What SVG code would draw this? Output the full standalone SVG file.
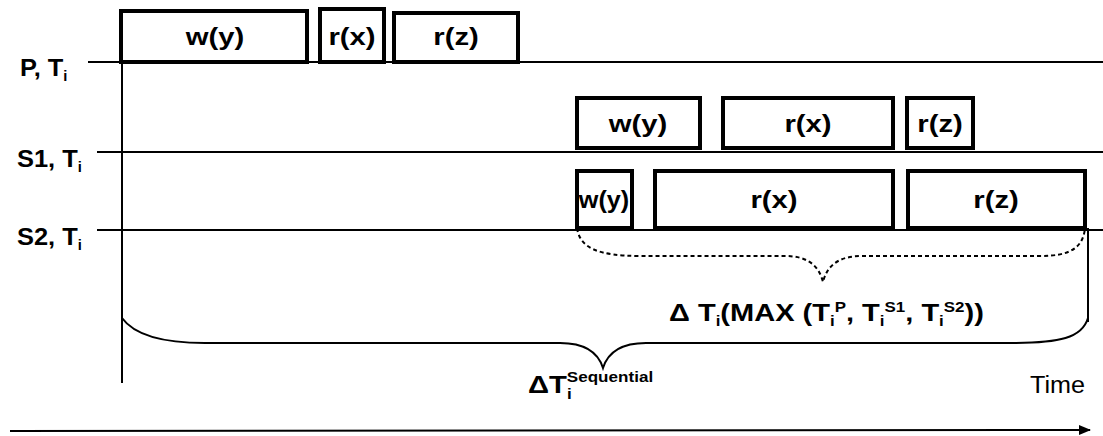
<svg xmlns="http://www.w3.org/2000/svg" width="1103" height="436" viewBox="0 0 1103 436">
<style>
.box{fill:#fff;stroke:#000;stroke-width:4}
.ln{fill:none;stroke:#000;stroke-width:2}
.t{font-family:"Liberation Sans",Arial,sans-serif;font-size:24px;fill:#000}
.lbl{font-family:"Liberation Sans",Arial,sans-serif;font-size:24px;font-weight:bold;fill:#000}
.bl{font-family:"Liberation Sans",Arial,sans-serif;font-size:24px;font-weight:bold;fill:#000;text-anchor:middle}
.sub{font-size:14px}
</style>
<defs>
<marker id="ah" markerWidth="12" markerHeight="10" refX="11" refY="5" orient="auto" markerUnits="userSpaceOnUse">
<path d="M0,0 L12,5 L0,10 Z" fill="#000"/>
</marker>
</defs>
<g id="connectors">
<line class="ln" x1="88" y1="62" x2="1103" y2="62"/>
<line class="ln" x1="97" y1="152" x2="1103" y2="152"/>
<line class="ln" x1="97" y1="230" x2="1103" y2="230"/>
<line class="ln" x1="122" y1="62" x2="122" y2="383"/>
<line class="ln" x1="1088" y1="228" x2="1088" y2="322"/>
<path class="ln" d="M122,318 C135,336 165,343 205,343 L560,343 C585,343 598,352 603,368 C608,352 621,343 646,343 L1010,343 C1060,343 1082,338 1088,318"/>
<path class="ln" stroke-dasharray="4,3" d="M577,228 C580,248 598,256 640,256 L785,256 C808,256 819,266 823,282 C827,266 838,256 862,256 L1040,256 C1070,256 1083,248 1085,228"/>
<line class="ln" x1="10" y1="431" x2="1090" y2="430" marker-end="url(#ah)"/>
</g>
<g id="lane-labels">
<text class="lbl" transform="translate(20,76) scale(1.06,1)">P, T<tspan class="sub" dy="5">i</tspan></text>
<text class="lbl" transform="translate(17,167) scale(1.06,1)">S1, T<tspan class="sub" dy="5">i</tspan></text>
<text class="lbl" transform="translate(17,245) scale(1.06,1)">S2, T<tspan class="sub" dy="5">i</tspan></text>
</g>
<g id="p-wy"><rect class="box" x="121" y="11" width="186" height="51"/><text class="bl" transform="translate(215,45) scale(1.22,1)">w(y)</text></g>
<g id="p-rx"><rect class="box" x="320" y="9" width="64" height="53"/><text class="bl" transform="translate(352,45) scale(1.22,1)">r(x)</text></g>
<g id="p-rz"><rect class="box" x="394" y="13" width="124" height="49"/><text class="bl" transform="translate(456,45) scale(1.22,1)">r(z)</text></g>
<g id="s1-wy"><rect class="box" x="577" y="98" width="123" height="50"/><text class="bl" transform="translate(638,132) scale(1.22,1)">w(y)</text></g>
<g id="s1-rx"><rect class="box" x="723" y="98" width="170" height="50"/><text class="bl" transform="translate(808,132) scale(1.22,1)">r(x)</text></g>
<g id="s1-rz"><rect class="box" x="907" y="98" width="66" height="50"/><text class="bl" transform="translate(940,132) scale(1.22,1)">r(z)</text></g>
<g id="s2-wy"><rect class="box" x="577" y="171" width="55" height="57"/><text class="bl" transform="translate(604,208) scale(1.05,1)">w(y)</text></g>
<g id="s2-rx"><rect class="box" x="655" y="171" width="238" height="57"/><text class="bl" transform="translate(774,208) scale(1.22,1)">r(x)</text></g>
<g id="s2-rz"><rect class="box" x="908" y="171" width="177" height="57"/><text class="bl" transform="translate(996,208) scale(1.22,1)">r(z)</text></g>
<g id="annotations">
<text class="lbl" transform="translate(669,321) scale(1.21,1)">Δ T<tspan class="sub" dy="5">i</tspan><tspan dy="-5">(MAX (T</tspan><tspan class="sub" dy="5">i</tspan><tspan class="sub" dy="-14">P</tspan><tspan dy="9">, T</tspan><tspan class="sub" dy="5">i</tspan><tspan class="sub" dy="-14">S1</tspan><tspan dy="9">, T</tspan><tspan class="sub" dy="5">i</tspan><tspan class="sub" dy="-14">S2</tspan><tspan dy="9">))</tspan></text>
<text class="lbl" transform="translate(528,393) scale(1.22,1)">ΔT<tspan class="sub" dy="6">i</tspan><tspan class="sub" dx="-4" dy="-17">Sequential</tspan></text>
<text class="t" transform="translate(1030,393) scale(1.05,1)">Time</text>
</g>
</svg>
